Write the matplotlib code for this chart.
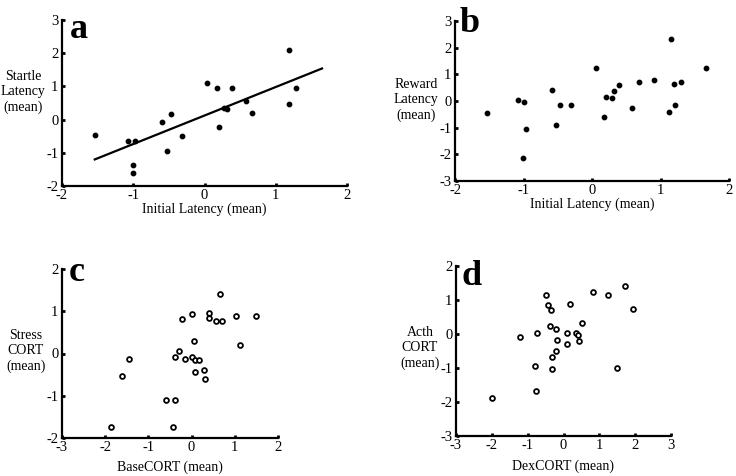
import numpy as np
import matplotlib
matplotlib.use('Agg')
import matplotlib.pyplot as plt

plt.rcParams['font.family'] = ['Liberation Serif', 'DejaVu Serif']

# panel a: Initial vs Startle latency
a_x = [-1.54, -1.08, -0.98, -1.01, -1.00, -0.60, -0.47, -0.53, -0.31, 0.04,
       0.17, 0.39, 0.20, 0.27, 0.31, 0.58, 0.66, 1.18, 1.19, 1.28]
a_y = [-0.47, -0.64, -0.64, -1.38, -1.60, -0.07, 0.18, -0.94, -0.49, 1.11,
       0.94, 0.96, -0.22, 0.36, 0.31, 0.57, 0.20, 2.11, 0.46, 0.94]
a_fit_x = [-1.54, 1.65]
a_fit_y = [-1.20, 1.54]

# panel b: Initial vs Reward latency
b_x = [-1.54, -1.08, -0.99, -0.97, -1.01, -0.59, -0.52, -0.46, -0.30, 0.06,
       0.18, 0.21, 0.29, 0.32, 0.40, 0.59, 0.68, 0.90, 1.13, 1.16,
       1.20, 1.21, 1.30, 1.66]
b_y = [-0.44, 0.03, -0.05, -1.04, -2.13, 0.40, -0.90, -0.14, -0.14, 1.23,
       -0.59, 0.16, 0.11, 0.39, 0.61, -0.26, 0.72, 0.80, -0.43, 2.33,
       0.64, -0.15, 0.72, 1.23]

# panel c: BaseCORT vs Stress CORT
c_x = [-1.87, -1.60, -1.44, -0.59, -0.39, -0.42, -0.39, -0.30, -0.22, -0.15,
       0.00, 0.00, 0.06, 0.08, 0.09, 0.16, 0.29, 0.31, 0.40, 0.41,
       0.57, 0.65, 0.70, 1.03, 1.13, 1.48]
c_y = [-1.75, -0.53, -0.14, -1.11, -1.10, -1.73, -0.08, 0.05, 0.81, -0.13,
       0.94, -0.09, 0.30, -0.15, -0.43, -0.16, -0.39, -0.61, 0.95, 0.83,
       0.78, 1.42, 0.78, 0.89, 0.20, 0.89]

# panel d: DexCORT vs Acth CORT
d_x = [-2.00, -1.21, -0.80, -0.78, -0.73, -0.49, -0.43, -0.39, -0.36, -0.33,
       -0.32, -0.22, -0.20, -0.17, 0.09, 0.10, 0.19, 0.34, 0.41, 0.43,
       0.52, 0.82, 1.24, 1.48, 1.73, 1.95]
d_y = [-1.88, -0.09, -0.93, -1.68, 0.03, 1.14, 0.84, 0.24, 0.70, -0.68,
       -1.04, -0.51, 0.16, -0.17, -0.30, 0.02, 0.89, 0.02, -0.03, -0.22,
       0.31, 1.23, 1.14, -0.99, 1.40, 0.75]

W, H = 736, 476
fig = plt.figure(figsize=(W / 100, H / 100), dpi=100)


def px_axes(x0, y0, x1, y1):
    # pixel box (left, top, right, bottom) -> figure axes
    return fig.add_axes([x0 / W, 1 - y1 / H, (x1 - x0) / W, (y1 - y0) / H])


def style(ax, xlim, ylim, xticks, yticks):
    ax.set_xlim(xlim)
    ax.set_ylim(ylim)
    ax.set_xticks(xticks)
    ax.set_yticks(yticks)
    ax.set_xticklabels([str(t) for t in xticks])
    ax.set_yticklabels([str(t) for t in yticks])
    for s in ['top', 'right']:
        ax.spines[s].set_visible(False)
    for s in ['left', 'bottom']:
        ax.spines[s].set_linewidth(1.6)
    ax.tick_params(direction='in', length=2.5, width=2, labelsize=10.5, pad=2.5)
    ax.set_facecolor('none')


filled = dict(s=10, color='black', zorder=3)
ring = dict(s=12, facecolors='white', edgecolors='black', linewidths=1.3, zorder=3)

ax = px_axes(62, 20, 347, 186)
ax.scatter(a_x, a_y, **filled)
ax.plot(a_fit_x, a_fit_y, color='black', lw=1.6)
style(ax, (-2, 2), (-2, 3), [-2, -1, 0, 1, 2], [-2, -1, 0, 1, 2, 3])
ax.set_xlabel('Initial Latency (mean)', fontsize=10, labelpad=0)

ax = px_axes(455, 21, 729, 181)
ax.scatter(b_x, b_y, **filled)
style(ax, (-2, 2), (-3, 3), [-2, -1, 0, 1, 2], [-3, -2, -1, 0, 1, 2, 3])
ax.set_xlabel('Initial Latency (mean)', fontsize=10, labelpad=0)

ax = px_axes(62, 269, 278, 438)
ax.scatter(c_x, c_y, **ring)
style(ax, (-3, 2), (-2, 2), [-3, -2, -1, 0, 1, 2], [-2, -1, 0, 1, 2])
ax.set_xlabel('BaseCORT (mean)', fontsize=10, labelpad=4)

ax = px_axes(456, 266, 671, 436)
ax.scatter(d_x, d_y, **ring)
style(ax, (-3, 3), (-3, 2), [-3, -2, -1, 0, 1, 2, 3], [-3, -2, -1, 0, 1, 2])
ax.set_xlabel('DexCORT (mean)', fontsize=10, labelpad=5)

# y-axis labels, horizontal and stacked
ylab = dict(fontsize=10, ha='center', va='center', linespacing=1.2)
fig.text(23 / W, 1 - 92 / H, 'Startle\nLatency\n(mean)', **ylab)
fig.text(416 / W, 1 - 100 / H, 'Reward\nLatency\n(mean)', **ylab)
fig.text(26 / W, 1 - 351 / H, 'Stress\nCORT\n(mean)', **ylab)
fig.text(420 / W, 1 - 348 / H, 'Acth\nCORT\n(mean)', **ylab)

# panel letters
let = dict(fontsize=26, fontweight='bold', ha='left', va='baseline')
fig.text(70 / W, 1 - 38 / H, 'a', **let)
fig.text(460 / W, 1 - 32 / H, 'b', **let)
fig.text(69 / W, 1 - 281 / H, 'c', **let)
fig.text(462 / W, 1 - 285 / H, 'd', **let)

fig.savefig('out.png', dpi=100)
